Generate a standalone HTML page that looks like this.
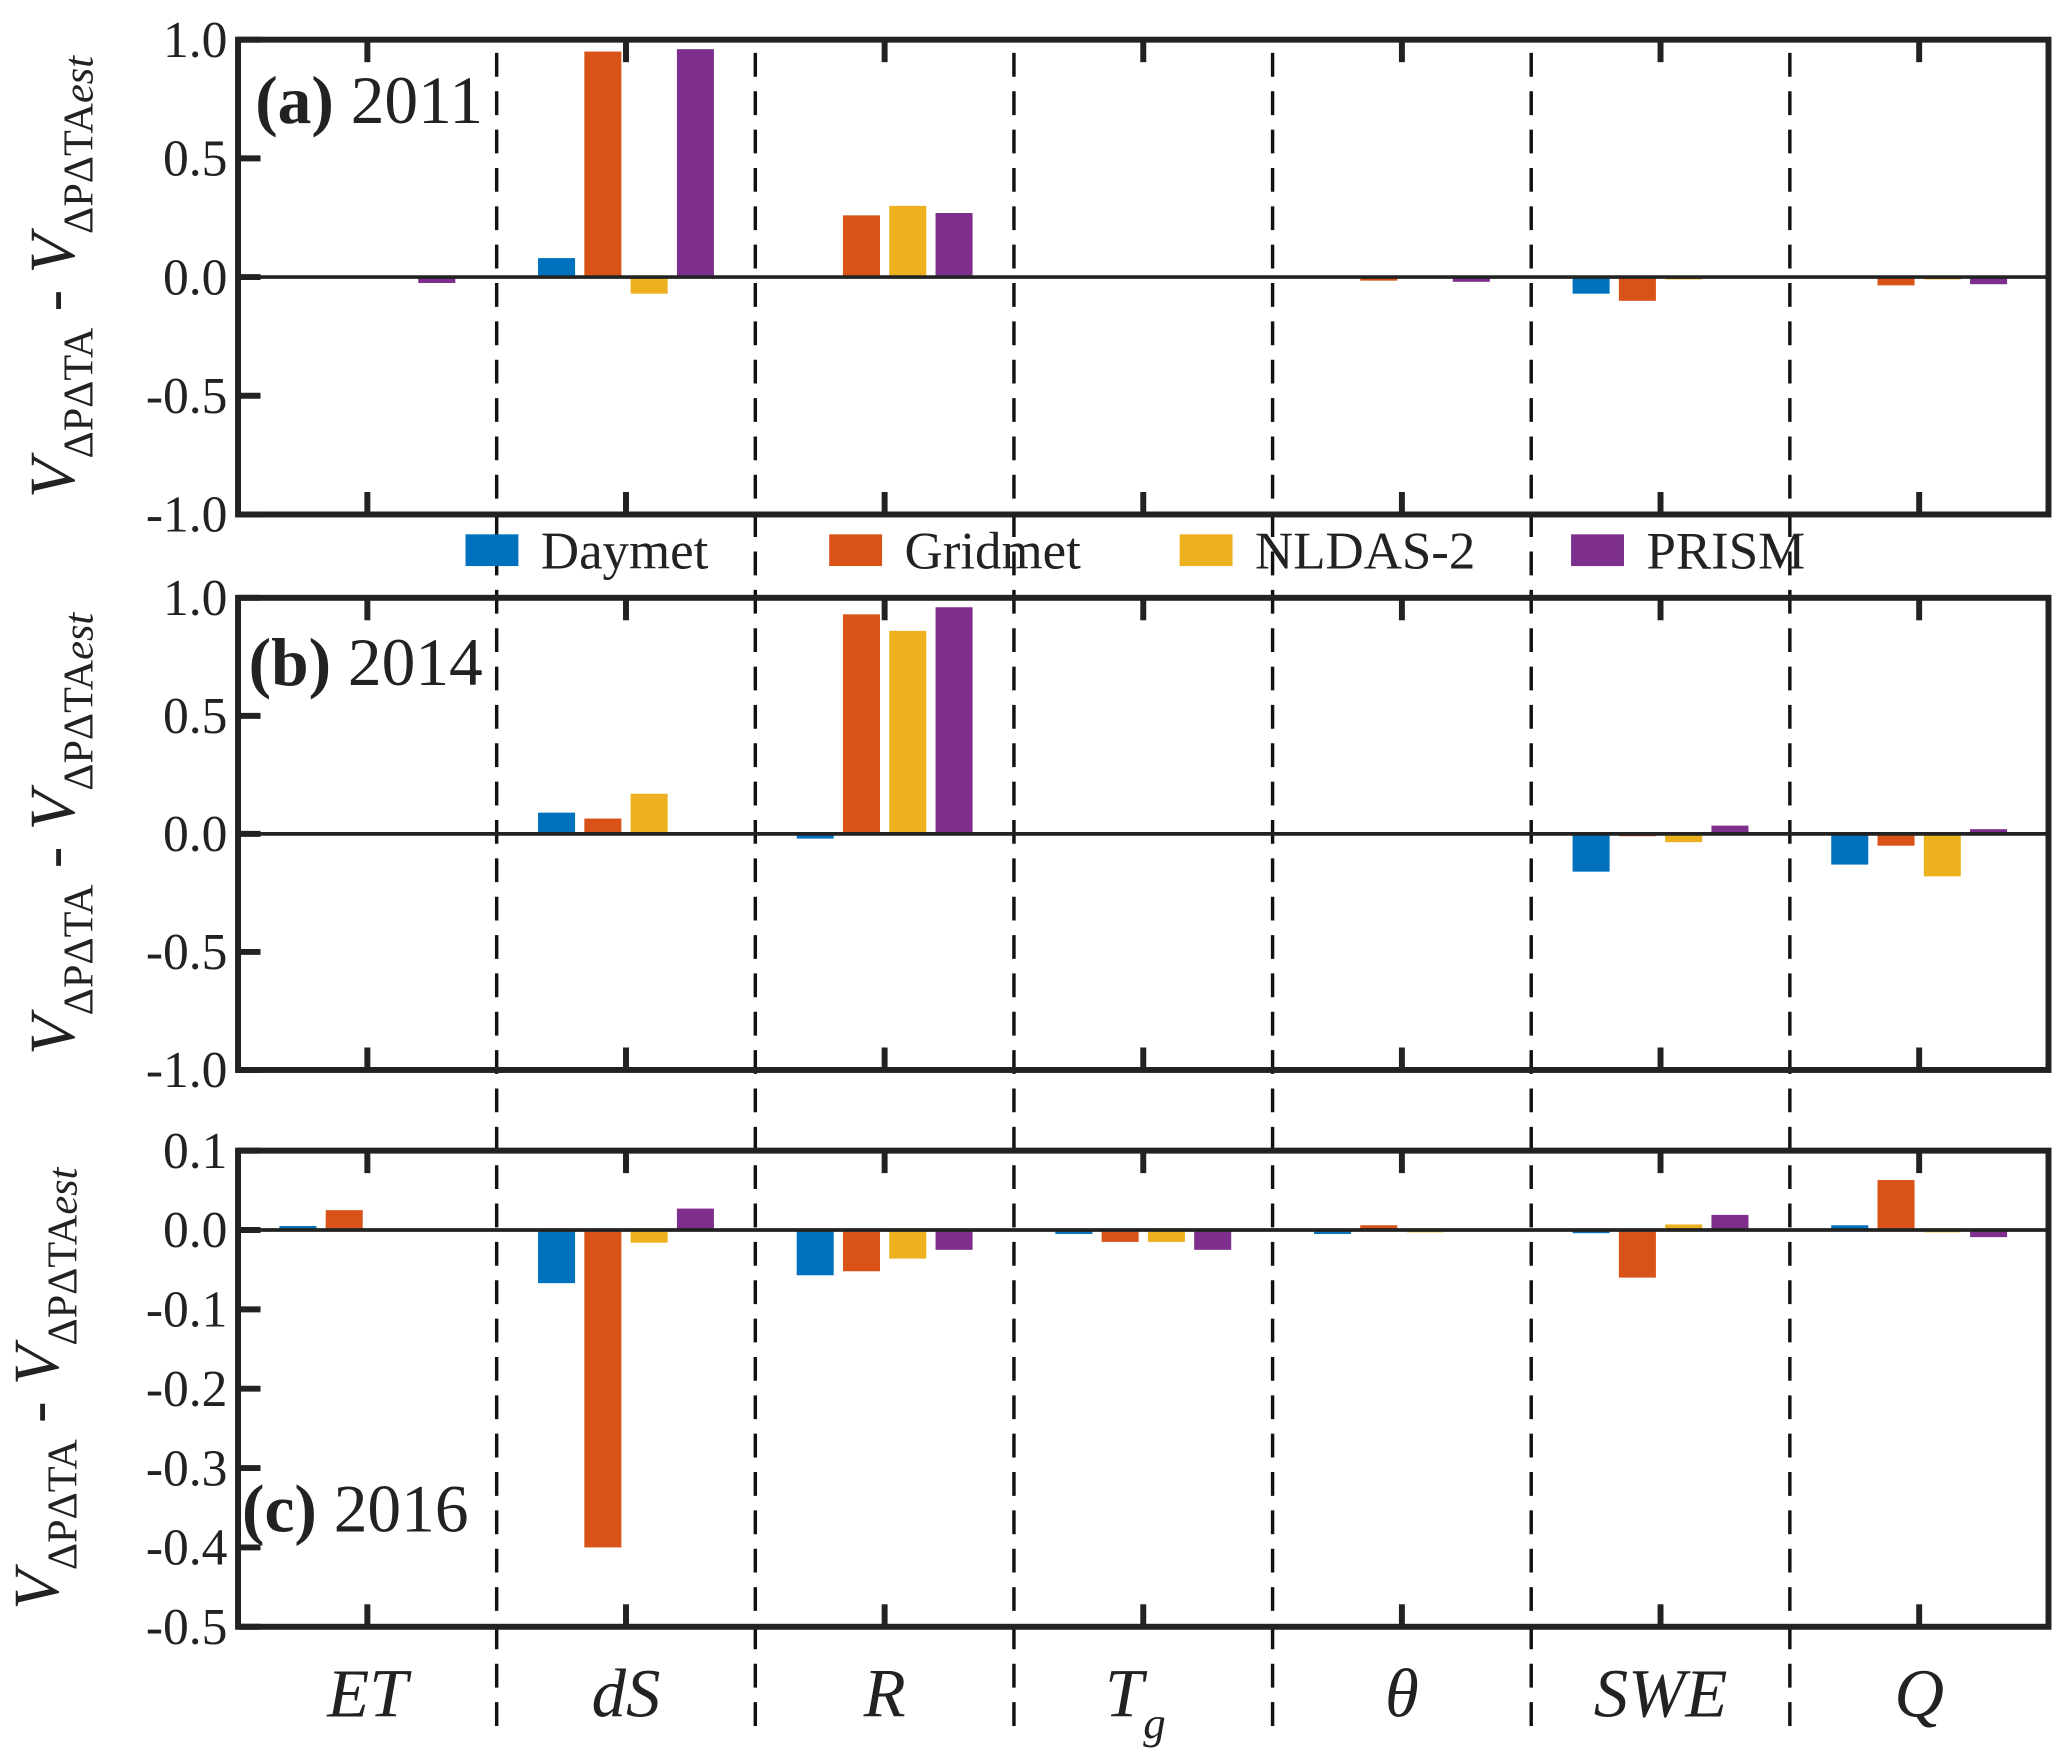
<!DOCTYPE html>
<html><head><meta charset="utf-8"><style>
html,body{margin:0;padding:0;background:#fff;}
svg{display:block;}
text{font-family:"Liberation Serif",serif;fill:#222;}
</style></head><body>
<svg id="chart" width="2067" height="1763" viewBox="0 0 1563 1333" preserveAspectRatio="none" xmlns="http://www.w3.org/2000/svg"></svg>
<script>
const categories = ["ET","dS","R","Tg","θ","SWE","Q"];
const seriesNames = ["Daymet","Gridmet","NLDAS-2","PRISM"];
const colors = ["#0072BD","#D95319","#EDB120","#7E2F8E"];
const daymetA = [-0.005, 0.08, -0.005, 0, -0.005, -0.07, -0.005];
const gridmetA = [-0.005, 0.95, 0.26, 0, -0.015, -0.10, -0.035];
const nldasA = [-0.005, -0.07, 0.30, 0, 0, -0.01, -0.01];
const prismA = [-0.025, 0.96, 0.27, 0, -0.02, -0.005, -0.03];
const daymetB = [-0.004, 0.09, -0.02, 0, -0.005, -0.16, -0.13];
const gridmetB = [-0.004, 0.065, 0.93, 0, 0.005, -0.01, -0.05];
const nldasB = [-0.003, 0.17, 0.86, 0, 0.005, -0.035, -0.18];
const prismB = [0.003, 0.005, 0.96, 0, 0, 0.035, 0.02];
const daymetC = [0.005, -0.067, -0.057, -0.005, -0.005, -0.004, 0.006];
const gridmetC = [0.025, -0.40, -0.052, -0.015, 0.006, -0.06, 0.063];
const nldasC = [-0.002, -0.016, -0.036, -0.015, -0.003, 0.007, -0.003];
const prismC = [-0.002, 0.027, -0.025, -0.025, -0.002, 0.019, -0.009];
const ticksAB = [1.0, 0.5, 0.0, -0.5, -1.0];
const ticksC = [0.1, 0.0, -0.1, -0.2, -0.3, -0.4, -0.5];

const NS="http://www.w3.org/2000/svg";
const svg=document.getElementById('chart');
function mk(tag,attrs,parent){const e=document.createElementNS(NS,tag);for(const k in attrs)e.setAttribute(k,attrs[k]);(parent||svg).appendChild(e);return e;}
const X0=180, X1=1549, step=(X1-X0)/7;
const xC=i=>X0+(i+0.5)*step;
const panels=[
 {id:'a',top:30,bot:389,vmax:1,vmin:-1,ticks:ticksAB,dec:1,data:[daymetA,gridmetA,nldasA,prismA],title:'(a)',year:' 2011',tx:193,ty:93},
 {id:'b',top:452,bot:809,vmax:1,vmin:-1,ticks:ticksAB,dec:1,data:[daymetB,gridmetB,nldasB,prismB],title:'(b)',year:' 2014',tx:188,ty:518},
 {id:'c',top:870,bot:1230,vmax:0.1,vmin:-0.5,ticks:ticksC,dec:1,data:[daymetC,gridmetC,nldasC,prismC],title:'(c)',year:' 2016',tx:183,ty:1158}
];
for(let k=1;k<7;k++){
 const l=mk('line',{x1:X0+k*step,x2:X0+k*step,y1:40,y2:1308,stroke:'#111','stroke-width':2.6,'stroke-dasharray':'18,11'});
 
 
}
panels.forEach(p=>{
 const g=mk('g',{});
 
 
 const y=v=>p.top+(p.vmax-v)/(p.vmax-p.vmin)*(p.bot-p.top);
 p.data.forEach((arr,s)=>{
  arr.forEach((v,i)=>{
   const cx=xC(i)+(s-1.5)*35;
   const y0=y(0),yv=y(v);
   const r=mk('rect',{x:cx-14,y:Math.min(y0,yv),width:28,height:Math.max(Math.abs(yv-y0),1),fill:colors[s]},g);
   
   
  });
 });
 const z=mk('line',{x1:X0,x2:X1,y1:y(0),y2:y(0),stroke:'#222','stroke-width':2.8},g);
 
 
 p.ticks.forEach(t=>{
  mk('line',{x1:X0,x2:X0+17,y1:y(t),y2:y(t),stroke:'#222','stroke-width':4.5},g);
  const tx=mk('text',{x:X0-8,y:y(t)+13,'text-anchor':'end','font-size':39},g);
  tx.textContent=t.toFixed(p.dec);
  
  
 });
 for(let i=0;i<7;i++){
  mk('line',{x1:xC(i),x2:xC(i),y1:p.top,y2:p.top+17,stroke:'#222','stroke-width':4.5},g);
  mk('line',{x1:xC(i),x2:xC(i),y1:p.bot,y2:p.bot-17,stroke:'#222','stroke-width':4.5},g);
 }
 const fr=mk('rect',{x:X0,y:p.top,width:X1-X0,height:p.bot-p.top,fill:'none',stroke:'#222','stroke-width':4.5},g);
 
 
 const tt=mk('text',{x:p.tx,y:p.ty,'font-size':51},g);
 
 
 const b=mk('tspan',{'font-weight':'bold'},tt);b.textContent=p.title;
 const yr=mk('tspan',{},tt);yr.textContent=p.year;
 const cy=(p.top+p.bot)/2;
 const yl=mk('text',{x:0,y:0,transform:`translate(${p.id==='c'?44:56},${cy}) rotate(-90)`,'text-anchor':'middle','font-size':49},g);
 
 
 const v1=mk('tspan',{'font-style':'italic'},yl);v1.textContent='V';
 const s1=mk('tspan',{'font-size':32,dy:14},yl);s1.textContent='ΔPΔTA';
 const m=mk('tspan',{dy:-14},yl);m.textContent=' - ';
 const v2=mk('tspan',{'font-style':'italic'},yl);v2.textContent='V';
 const s2=mk('tspan',{'font-size':32,dy:14},yl);s2.textContent='ΔPΔTA';
 const s3=mk('tspan',{'font-size':32,'font-style':'italic'},yl);s3.textContent='est';
});
const legX=[352,627,892,1188];
seriesNames.forEach((n,s)=>{
 const r=mk('rect',{x:legX[s],y:404,width:40,height:24,fill:colors[s]});
 
 
 const t=mk('text',{x:legX[s]+57,y:430,'font-size':40});
 t.textContent=n;
 
 
});
categories.forEach((c,i)=>{
 const t=mk('text',{x:xC(i)-(c==='Tg'?6:0),y:1298,'text-anchor':'middle','font-size':52,'font-style':'italic'});
 
 
 if(c==='Tg'){const a=mk('tspan',{},t);a.textContent='T';const b=mk('tspan',{'font-size':34,dy:16},t);b.textContent='g';}
 else t.textContent=c;
});
</script>
</body></html>
